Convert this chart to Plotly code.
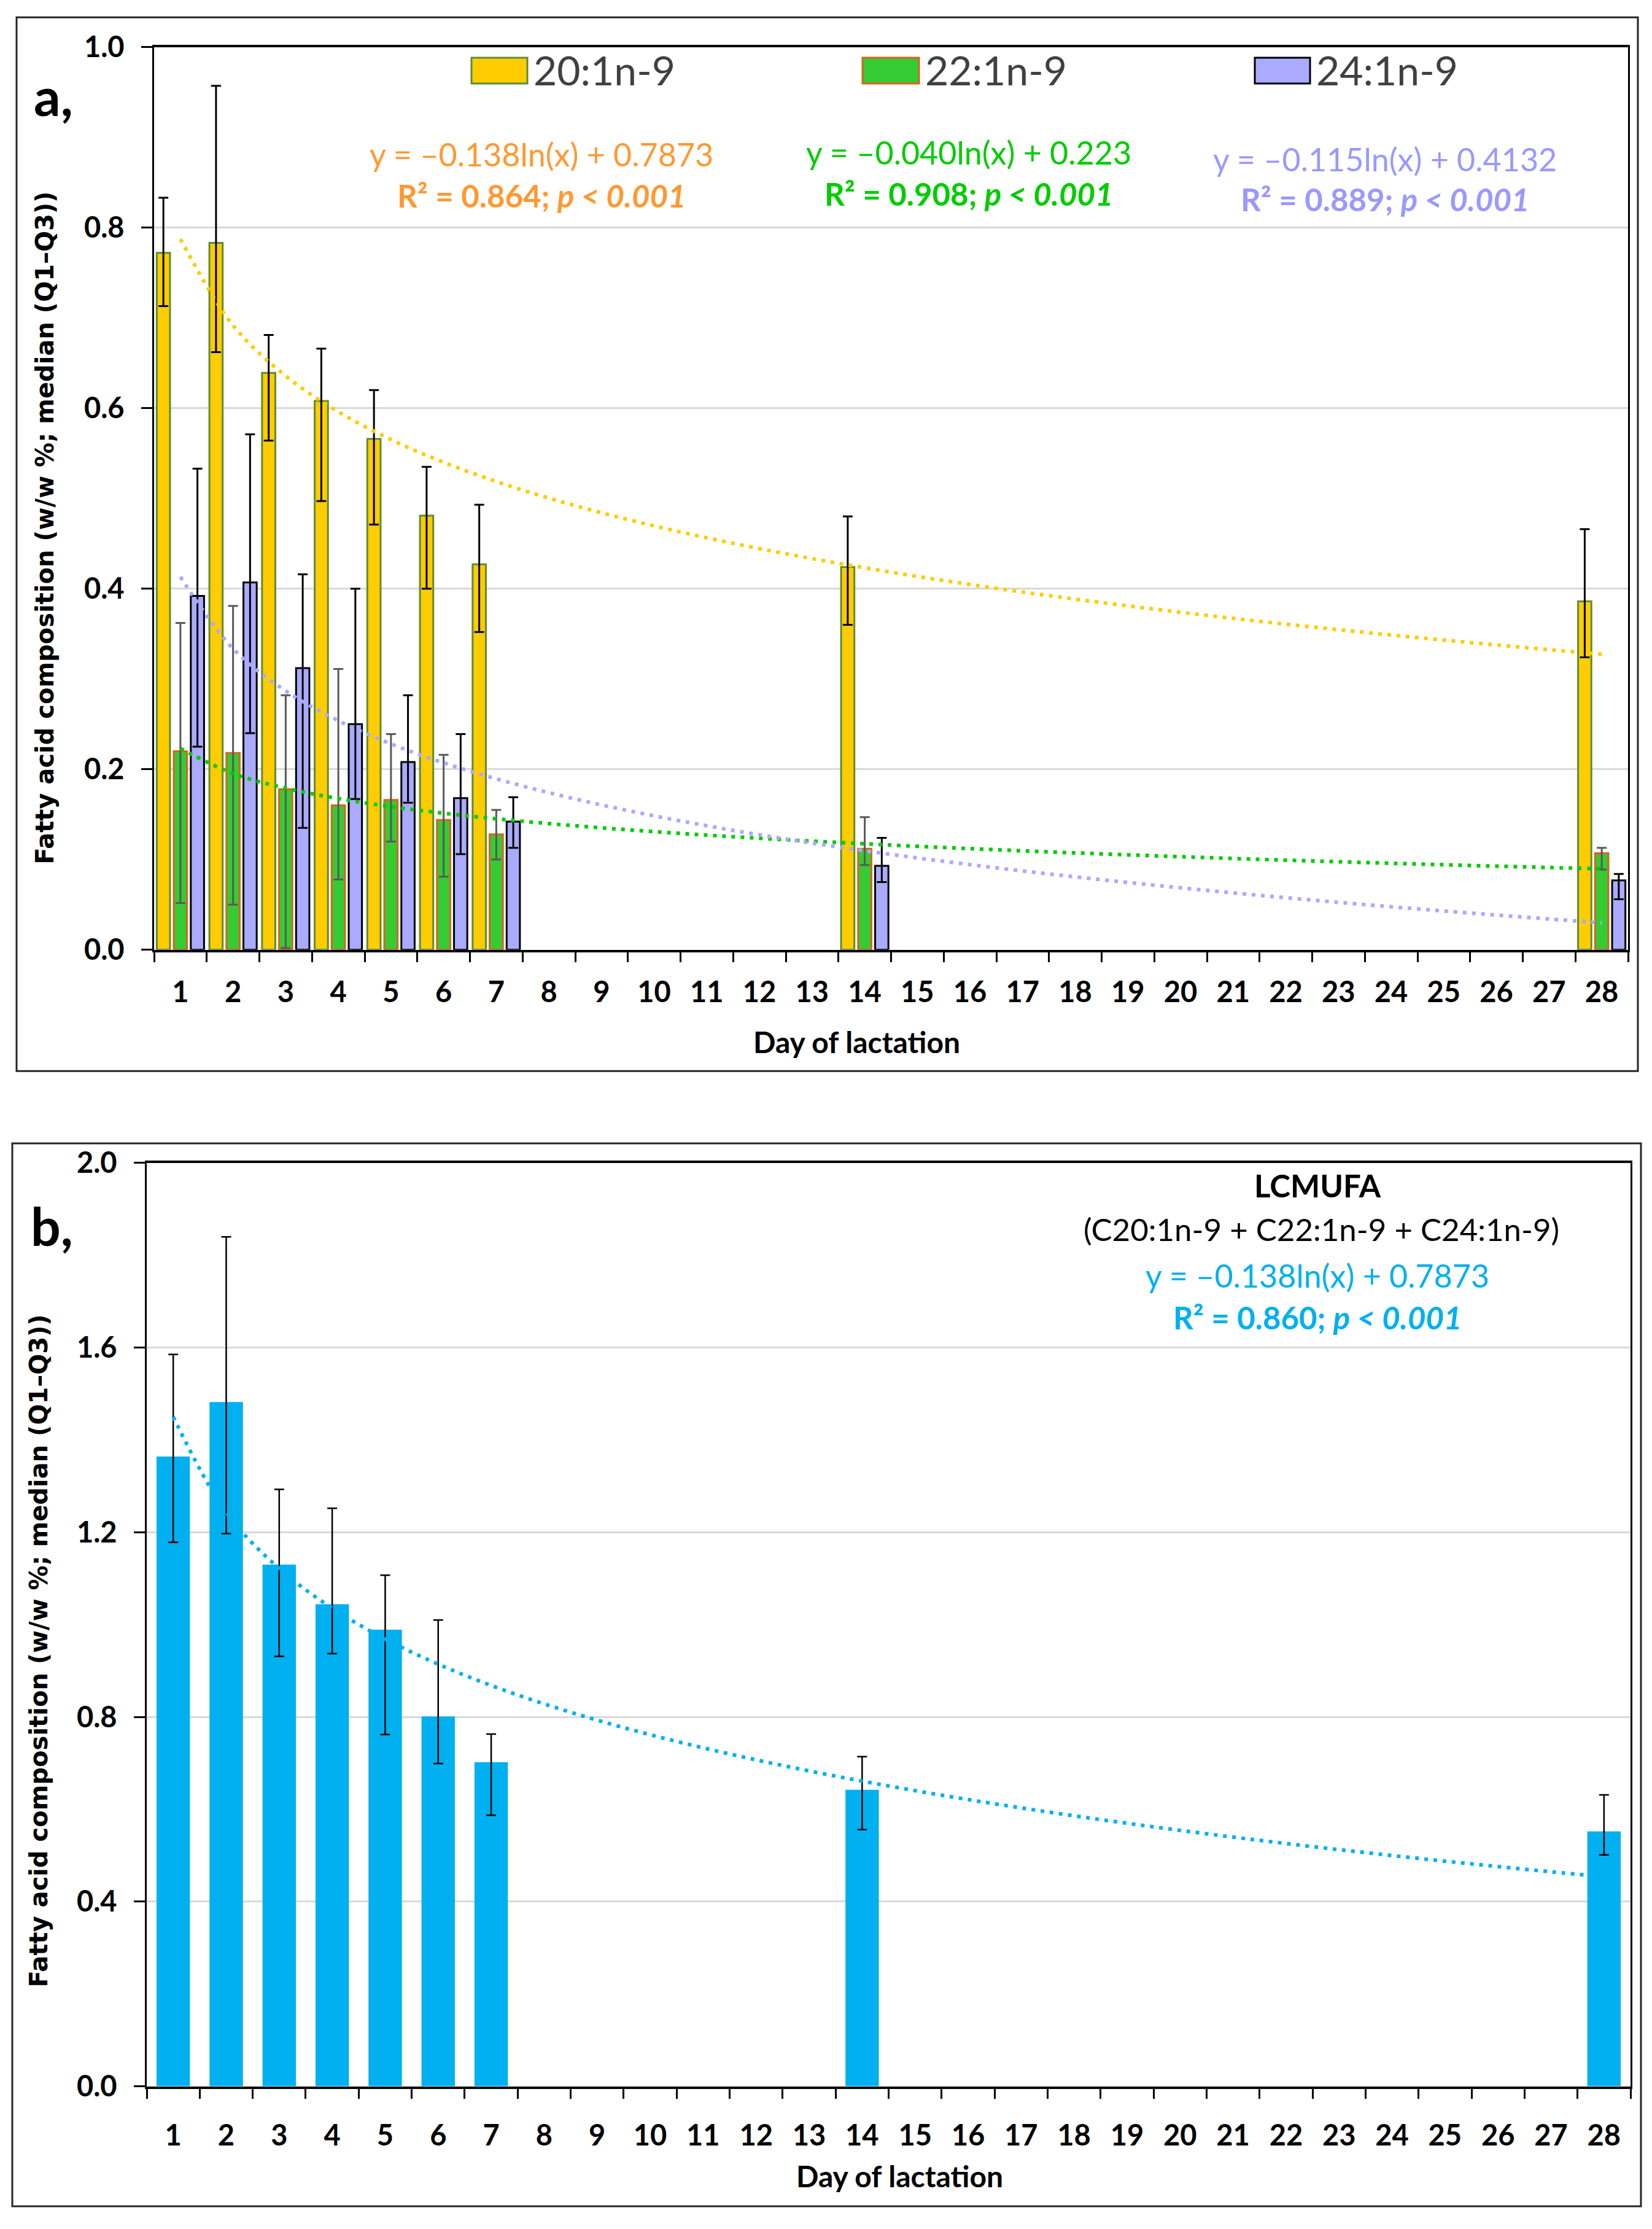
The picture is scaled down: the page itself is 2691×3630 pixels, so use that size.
import numpy as np
import plotly.graph_objects as go

# ---------------- data ----------------
days = [1, 2, 3, 4, 5, 6, 7, 14, 28]
day_ticks = list(range(1, 29))
day_labels = [str(d) for d in day_ticks]

c20_med = [0.772, 0.783, 0.639, 0.608, 0.566, 0.481, 0.427, 0.424, 0.386]
c20_q1 = [0.713, 0.662, 0.564, 0.497, 0.471, 0.400, 0.352, 0.360, 0.324]
c20_q3 = [0.833, 0.957, 0.681, 0.666, 0.620, 0.535, 0.493, 0.480, 0.466]

c22_med = [0.220, 0.218, 0.178, 0.160, 0.166, 0.144, 0.128, 0.112, 0.107]
c22_q1 = [0.052, 0.050, 0.002, 0.078, 0.120, 0.081, 0.100, 0.094, 0.089]
c22_q3 = [0.362, 0.381, 0.282, 0.311, 0.239, 0.216, 0.155, 0.147, 0.113]

c24_med = [0.392, 0.407, 0.312, 0.250, 0.208, 0.168, 0.142, 0.093, 0.077]
c24_q1 = [0.225, 0.240, 0.135, 0.167, 0.163, 0.106, 0.113, 0.075, 0.056]
c24_q3 = [0.533, 0.571, 0.416, 0.400, 0.282, 0.239, 0.169, 0.124, 0.084]

lc_med = [1.364, 1.482, 1.130, 1.044, 0.989, 0.801, 0.702, 0.642, 0.552]
lc_q1 = [1.178, 1.197, 0.931, 0.937, 0.762, 0.699, 0.587, 0.556, 0.501]
lc_q3 = [1.585, 1.840, 1.293, 1.252, 1.107, 1.010, 0.763, 0.714, 0.631]

# logarithmic trendlines  y = slope*ln(x) + intercept
trend_names = ["20:1n-9", "22:1n-9", "24:1n-9", "LCMUFA"]
trend_slope = [-0.138, -0.040, -0.115, -0.299]
trend_intercept = [0.7873, 0.223, 0.4132, 1.450]

eq_line1 = ["y = –0.138ln(x) + 0.7873", "y = –0.040ln(x) + 0.223",
            "y = –0.115ln(x) + 0.4132", "y = –0.138ln(x) + 0.7873"]
eq_line2 = ["R² = 0.864; <i>p &lt; 0.001</i>", "R² = 0.908; <i>p &lt; 0.001</i>",
            "R² = 0.889; <i>p &lt; 0.001</i>", "R² = 0.860; <i>p &lt; 0.001</i>"]

# ---------------- geometry helpers ----------------
W, H = 2691, 3630
Y_OFF, Y_SCL = 28.8, 0.9874   # empirical vertical correction of the page capture


def px(x):
    return x / W


def py(y):
    return 1 - ((y - Y_OFF) / Y_SCL) / H


YEL, GRN, LAV, BLU = "#FFCC00", "#33CC33", "#AAAAFF", "#00B0F0"
YEL_EDGE, GRN_EDGE, LAV_EDGE = "#5E8C31", "#E0601A", "#000000"
FONT = "Lato"

fig = go.Figure()


def err(med, q1, q3):
    med, q1, q3 = np.array(med), np.array(q1), np.array(q3)
    return q3 - med, med - q1


series = [
    ("20:1n-9", c20_med, c20_q1, c20_q3, YEL, YEL_EDGE, "#000000"),
    ("22:1n-9", c22_med, c22_q1, c22_q3, GRN, GRN_EDGE, "#595959"),
    ("24:1n-9", c24_med, c24_q1, c24_q3, LAV, LAV_EDGE, "#000000"),
]
for name, med, q1, q3, col, edge, ecol in series:
    up, dn = err(med, q1, q3)
    fig.add_trace(go.Bar(
        x=days, y=med, name=name, xaxis="x", yaxis="y",
        marker=dict(color=col, line=dict(color=edge, width=3)),
        error_y=dict(type="data", symmetric=False, array=up, arrayminus=dn,
                     color=ecol, thickness=3, width=8),
        showlegend=False))

up, dn = err(lc_med, lc_q1, lc_q3)
fig.add_trace(go.Bar(
    x=days, y=lc_med, name="LCMUFA", xaxis="x2", yaxis="y2", width=0.63,
    marker=dict(color=BLU, line=dict(width=0)),
    error_y=dict(type="data", symmetric=False, array=up, arrayminus=dn,
                 color="#000000", thickness=2.5, width=8),
    showlegend=False))

# trendlines
tx = np.array(day_ticks, dtype=float)
trend_cols = ["#FFCC00", "#00CC00", "#AAAAFF", "#00B0F0"]
trend_axes = [("x", "y"), ("x", "y"), ("x", "y"), ("x2", "y2")]
for i in range(4):
    fig.add_trace(go.Scatter(
        x=tx, y=trend_slope[i] * np.log(tx) + trend_intercept[i],
        mode="lines", line=dict(color=trend_cols[i], width=6, dash="6px,9px", shape="spline"),
        xaxis=trend_axes[i][0], yaxis=trend_axes[i][1], showlegend=False, hoverinfo="skip"))

tickfont = dict(family=FONT, size=47, color="black", weight="bold")
boundaries = [i + 0.5 for i in range(0, 29)]


def xaxis_cfg(x0, x1, anchor, standoff):
    return dict(domain=[px(x0), px(x1)], range=[0.5, 28.5], anchor=anchor,
                tickmode="array", tickvals=day_ticks, ticktext=day_labels, ticks="",
                tickfont=tickfont, ticklabelstandoff=standoff,
                showline=True, linecolor="black", linewidth=4, mirror=True,
                showgrid=False, zeroline=False,
                minor=dict(tickmode="array", tickvals=boundaries, ticks="outside",
                           ticklen=16, tickwidth=2.5, tickcolor="black", showgrid=False))


def yaxis_cfg(y_top, y_bot, anchor, top, dt):
    return dict(domain=[py(y_bot), py(y_top)], range=[0, top], anchor=anchor,
                dtick=dt, tick0=0, tickformat=".1f", tickfont=tickfont,
                ticks="outside", ticklen=18, tickwidth=2.5, tickcolor="black",
                ticklabelstandoff=18,
                showline=True, linecolor="black", linewidth=3, mirror=True,
                showgrid=True, gridcolor="#D9D9D9", gridwidth=3, zeroline=False)


fig.update_layout(
    width=W, height=H, autosize=False,
    margin=dict(l=0, r=0, t=0, b=0),
    paper_bgcolor="white", plot_bgcolor="white",
    barmode="group", bargap=0.03, bargroupgap=0.22,
    xaxis=xaxis_cfg(251, 2652, "y", 25),
    yaxis=yaxis_cfg(75.5, 1550, "x", 1.0, 0.2),
    xaxis2=xaxis_cfg(239, 2656, "y2", 36),
    yaxis2=yaxis_cfg(1898, 3406, "x2", 2.0, 0.4),
)

shapes = [
    dict(type="rect", xref="paper", yref="paper", x0=px(27), x1=px(2668), y0=py(1748), y1=py(27),
         line=dict(color="#262626", width=3)),
    dict(type="rect", xref="paper", yref="paper", x0=px(20), x1=px(2673), y0=py(3602), y1=py(1866),
         line=dict(color="#262626", width=3)),
]
# custom legend swatches
leg = [("20:1n-9", YEL, YEL_EDGE, 768, 859), ("22:1n-9", GRN, GRN_EDGE, 1405, 1497),
       ("24:1n-9", LAV, LAV_EDGE, 2044, 2134)]
annotations = []
for name, col, edge, x0, x1 in leg:
    shapes.append(dict(type="rect", xref="paper", yref="paper", x0=px(x0), x1=px(x1),
                       y0=py(135), y1=py(93), fillcolor=col, line=dict(color=edge, width=3)))
    annotations.append(dict(text=name, xref="paper", yref="paper", x=px(x1 + 8), y=py(113),
                            xanchor="left", yanchor="middle", showarrow=False,
                            font=dict(family=FONT, size=66, color="#404040")))

eq_cols = ["#FF9933", "#00CC00", "#9999FF", "#00B0F0"]
eq_pos = [(882, 250, 318), (1578, 247, 315), (2256, 258, 324), (2146, 2082, 2150)]
for i in range(4):
    cx, y1, y2 = eq_pos[i]
    annotations.append(dict(text=eq_line1[i], xref="paper", yref="paper", x=px(cx), y=py(y1),
                            xanchor="center", yanchor="middle", showarrow=False,
                            font=dict(family=FONT, size=52, color=eq_cols[i])))
    annotations.append(dict(text="<b>" + eq_line2[i] + "</b>", xref="paper", yref="paper",
                            x=px(cx), y=py(y2), xanchor="center", yanchor="middle", showarrow=False,
                            font=dict(family=FONT, size=51, color=eq_cols[i])))

annotations += [
    dict(text="<b>LCMUFA</b>", xref="paper", yref="paper", x=px(2146), y=py(1935),
         xanchor="center", yanchor="middle", showarrow=False,
         font=dict(family=FONT, size=51, color="black")),
    dict(text="(C20:1n-9 + C22:1n-9 + C24:1n-9)", xref="paper", yref="paper", x=px(2152), y=py(2006),
         xanchor="center", yanchor="middle", showarrow=False,
         font=dict(family=FONT, size=51, color="black")),
    dict(text="<b>a,</b>", xref="paper", yref="paper", x=px(87), y=py(155),
         xanchor="center", yanchor="middle", showarrow=False,
         font=dict(family=FONT, size=86, color="black")),
    dict(text="<b>b,</b>", xref="paper", yref="paper", x=px(85), y=py(2000),
         xanchor="center", yanchor="middle", showarrow=False,
         font=dict(family=FONT, size=86, color="black")),
    dict(text="<b>Day of lactation</b>", xref="paper", yref="paper", x=px(1395), y=py(1700),
         xanchor="center", yanchor="middle", showarrow=False,
         font=dict(family=FONT, size=48, color="black")),
    dict(text="<b>Day of lactation</b>", xref="paper", yref="paper", x=px(1465), y=py(3552),
         xanchor="center", yanchor="middle", showarrow=False,
         font=dict(family=FONT, size=48, color="black")),
    dict(text="<b>Fatty acid composition (w/w %; median (Q1–Q3))</b>", xref="paper", yref="paper",
         x=px(73), y=py(861), textangle=-90, xanchor="center", yanchor="middle", showarrow=False,
         font=dict(family="DejaVu Sans", size=40, color="black")),
    dict(text="<b>Fatty acid composition (w/w %; median (Q1–Q3))</b>", xref="paper", yref="paper",
         x=px(63), y=py(2695), textangle=-90, xanchor="center", yanchor="middle", showarrow=False,
         font=dict(family="DejaVu Sans", size=40, color="black")),
]

fig.update_layout(shapes=shapes, annotations=annotations)
fig.write_html("out.html", config={"displayModeBar": False},
               post_script="document.body.style.margin='0px';")
